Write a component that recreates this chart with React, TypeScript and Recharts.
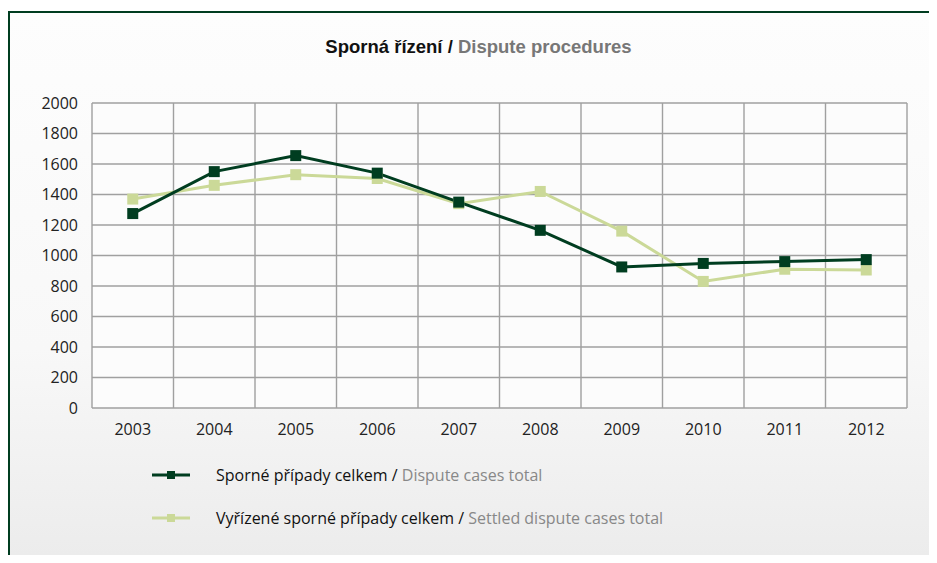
import React from "react"
import {
  LineChart, Line, XAxis, YAxis, CartesianGrid,
} from "recharts"

const YEARS = [2003, 2004, 2005, 2006, 2007, 2008, 2009, 2010, 2011, 2012]
const DISPUTE_TOTAL = [1275, 1550, 1655, 1540, 1350, 1165, 925, 948, 960, 973]
const SETTLED_TOTAL = [1370, 1460, 1530, 1505, 1340, 1420, 1160, 830, 910, 905]
const Y_TICKS = [0, 200, 400, 600, 800, 1000, 1200, 1400, 1600, 1800, 2000]

const SERIES = [
  { key: "total", color: "#003d20", cz: "Sporné případy celkem", en: "Dispute cases total" },
  { key: "settled", color: "#cbd998", cz: "Vyřízené sporné případy celkem", en: "Settled dispute cases total" },
]

const data = YEARS.map((year, i) => ({
  year,
  total: DISPUTE_TOTAL[i],
  settled: SETTLED_TOTAL[i],
}))

const FONT = "'Open Sans', 'Noto Sans', sans-serif"

// square marker like the original
function SquareDot({ cx, cy, fill }: any) {
  if (cx == null || cy == null) return null
  return <rect x={cx - 5.5} y={cy - 5.5} width={11} height={11} fill={fill} />
}

function LegendBox() {
  return (
    <div style={{ fontFamily: FONT, fontSize: 16 }}>
      {SERIES.map((s) => (
        <div key={s.key} style={{ display: "flex", alignItems: "center", height: 43 }}>
          <svg width={64} height={12}>
            <line x1={0} y1={6} x2={38} y2={6} stroke={s.color} strokeWidth={3} />
            <rect x={15} y={2} width={8} height={8} fill={s.color} />
          </svg>
          <span style={{ color: "#111", whiteSpace: "pre" }}>{s.cz} / </span>
          <span style={{ color: "#888" }}>{s.en}</span>
        </div>
      ))}
    </div>
  )
}

export default function App() {
  return (
    <div
      style={{
        position: "relative",
        width: 937,
        height: 563,
        margin: -8,
        overflow: "hidden",
        background: "#ffffff",
      }}
    >
      <div
        style={{
          position: "absolute",
          left: 8,
          top: 11,
          width: 940,
          height: 560,
          borderLeft: "2.5px solid #003d20",
          borderTop: "2.5px solid #003d20",
          background: "linear-gradient(to bottom, #fdfdfd 0%, #f8f8f8 60%, #ebebeb 100%)",
        }}
      />
      <div
        style={{
          position: "absolute",
          top: 36,
          left: 0,
          width: 957,
          textAlign: "center",
          fontFamily: "'Liberation Sans Narrow', 'Arial Narrow', 'Liberation Sans', sans-serif",
          fontWeight: "bold",
          fontSize: 18.5,
          whiteSpace: "pre",
        }}
      >
        <span style={{ color: "#111" }}>Sporná řízení / </span>
        <span style={{ color: "#777" }}>Dispute procedures</span>
      </div>
      <div style={{ position: "absolute", left: 0, top: 0 }}>
        <LineChart
          width={937}
          height={563}
          data={data}
          margin={{ top: 103, right: 30, bottom: 125, left: 0 }}
        >
          <CartesianGrid
            stroke="#a0a0a0"
            strokeWidth={1.4}
            fill="#fcfcfc"
            verticalCoordinatesGenerator={({ offset }: any) =>
              YEARS.concat([2013]).map((_, i) => offset.left + (i * offset.width) / YEARS.length)
            }
          />
          <XAxis
            dataKey="year"
            type="number"
            domain={[2002.5, 2012.5]}
            ticks={YEARS}
            axisLine={false}
            tickLine={false}
            tickMargin={10}
            tick={{ fill: "#222", fontSize: 16, fontFamily: FONT }}
          />
          <YAxis
            width={92}
            domain={[0, 2000]}
            ticks={Y_TICKS}
            axisLine={false}
            tickLine={false}
            tickMargin={8}
            tick={{ fill: "#222", fontSize: 16, fontFamily: FONT }}
          />
          <Line
            dataKey="settled"
            stroke={SERIES[1].color}
            strokeWidth={3}
            dot={<SquareDot fill={SERIES[1].color} />}
            activeDot={false}
            isAnimationActive={false}
          />
          <Line
            dataKey="total"
            stroke={SERIES[0].color}
            strokeWidth={3}
            dot={<SquareDot fill={SERIES[0].color} />}
            activeDot={false}
            isAnimationActive={false}
          />
        </LineChart>
      </div>
      <div style={{ position: "absolute", left: 152, top: 453 }}>
        <LegendBox />
      </div>
    </div>
  )
}
